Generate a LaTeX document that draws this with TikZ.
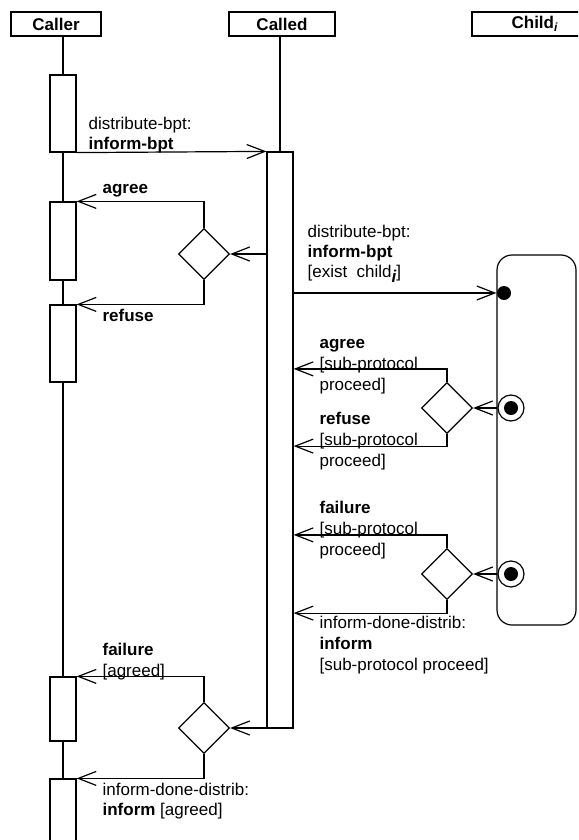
\documentclass[tikz,border=0pt]{standalone}
\usepackage{fontspec}
\setmainfont{Liberation Sans}
\usetikzlibrary{arrows.meta,shapes.geometric}

\tikzset{
  every node/.style={font=\fontsize{8.5}{10.5}\selectfont},
  head/.style={draw,minimum height=12pt,inner sep=0pt,font=\fontsize{8.5}{10.5}\selectfont\bfseries},
  actbox/.style={draw,fill=white,minimum width=13pt,inner sep=0pt},
  branch/.style={draw,fill=white,shape=diamond,minimum width=25.5pt,minimum height=25.5pt,inner sep=0pt},
  msg/.style={-{Straight Barb[length=9pt,width=7pt]}},
  lbl/.style={anchor=base west,inner sep=0pt,align=left},
  startdot/.style={circle,fill=black,minimum size=7pt,inner sep=0pt},
  endring/.style={circle,draw,fill=white,minimum size=13pt,inner sep=0pt},
}

\begin{document}
\begin{tikzpicture}[x=0.5pt,y=-0.5pt,line width=0.6pt]
\useasboundingbox (0,0) rectangle (578,840);
\clip (0,0) rectangle (578,840);

% Heads of the lifelines
\node[head,minimum width=45pt] (caller) at (56,24) {Caller};
\node[head,minimum width=53pt] (called) at (282,24) {Called};
\node[head,minimum width=63pt] (child) at (535,24) {Child\textsubscript{\itshape i}};

% Lifelines and activations
\coordinate (callerend) at (63,860);
\draw (caller.south -| callerend) -- (callerend);
\node[actbox,minimum height=288pt] (bar) at (280,440) {};
\draw (called.south -| bar.north) -- (bar.north);
\node[actbox,minimum height=38.5pt] (act1) at (63,113.5) {};
\node[actbox,minimum height=39pt] (act2) at (63,241) {};
\node[actbox,minimum height=38.5pt] (act3) at (63,343.5) {};
\node[actbox,minimum height=32pt] (act4) at (63,709) {};
\node[actbox,minimum height=40pt] (act5) at (63,819) {};

% Child state
\node[draw,rounded corners=7.5pt,minimum width=39.5pt,minimum height=185pt] (state) at (536.5,440) {};
\node[startdot] (init) at (504,293) {};
\node[endring] (done1) at (511,408) {};
\node[startdot] (done1c) at (done1) {};
\node[endring] (done2) at (511,574) {};
\node[startdot] (done2c) at (done2) {};

% Decisions
\node[branch] (br1) at (204,254) {};
\node[branch] (br2) at (447,408) {};
\node[branch] (br3) at (447,574) {};
\node[branch] (br4) at (204,728) {};

% Messages
\draw[msg] (act1.south east) -- (bar.north west);
\draw[msg] (bar.west |- br1) -- (br1.east);
\draw[msg] (br1.north) |- (act2.north east);
\draw[msg] (br1.south) |- (act3.north east);
\draw[msg] (bar.east |- init) -- (init.west);
\draw[msg] (done1.west) -- (br2.east);
\draw[msg] (br2.north) -- ++(0,-13) coordinate (k1) -- (k1 -| bar.east);
\draw[msg] (br2.south) -- ++(0,12) coordinate (k2) -- (k2 -| bar.east);
\draw[msg] (done2.west) -- (br3.east);
\draw[msg] (br3.north) -- ++(0,-13) coordinate (k3) -- (k3 -| bar.east);
\draw[msg] (br3.south) -- ++(0,13) coordinate (k4) -- (k4 -| bar.east);
\draw[msg] (bar.west |- br4) -- (br4.east);
\draw[msg] (br4.north) |- (act4.north east);
\draw[msg] (br4.south) |- (act5.north east);

% Labels (base = last line)
\node[lbl,font=\fontsize{8.5}{10}\selectfont] (m1) at (88,149) {distribute-bpt:\\\textbf{inform-bpt}};
\node[lbl] (m2) at (102,193) {\textbf{agree}};
\node[lbl] (m3) at (102,321) {\textbf{refuse}};
\node[lbl,font=\fontsize{8.5}{9.8}\selectfont] (m4) at (307,277) {distribute-bpt:\\\textbf{inform-bpt}\\{[}exist\ \ child\raisebox{-2.5pt}{\bfseries\itshape i}{]}};
\node[lbl] (m5) at (319,390) {\textbf{agree}\\{[}sub-protocol\\proceed{]}};
\node[lbl] (m6) at (319,466) {\textbf{refuse}\\{[}sub-protocol\\proceed{]}};
\node[lbl] (m7) at (319,555) {\textbf{failure}\\{[}sub-protocol\\proceed{]}};
\node[lbl] (m8) at (319,670) {inform-done-distrib:\\\textbf{inform}\\{[}sub-protocol proceed{]}};
\node[lbl] (m9) at (102,676) {\textbf{failure}\\{[}agreed{]}};
\node[lbl,font=\fontsize{8.5}{10}\selectfont] (m10) at (102,815) {inform-done-distrib:\\\textbf{inform} {[}agreed{]}};
\end{tikzpicture}
\end{document}
